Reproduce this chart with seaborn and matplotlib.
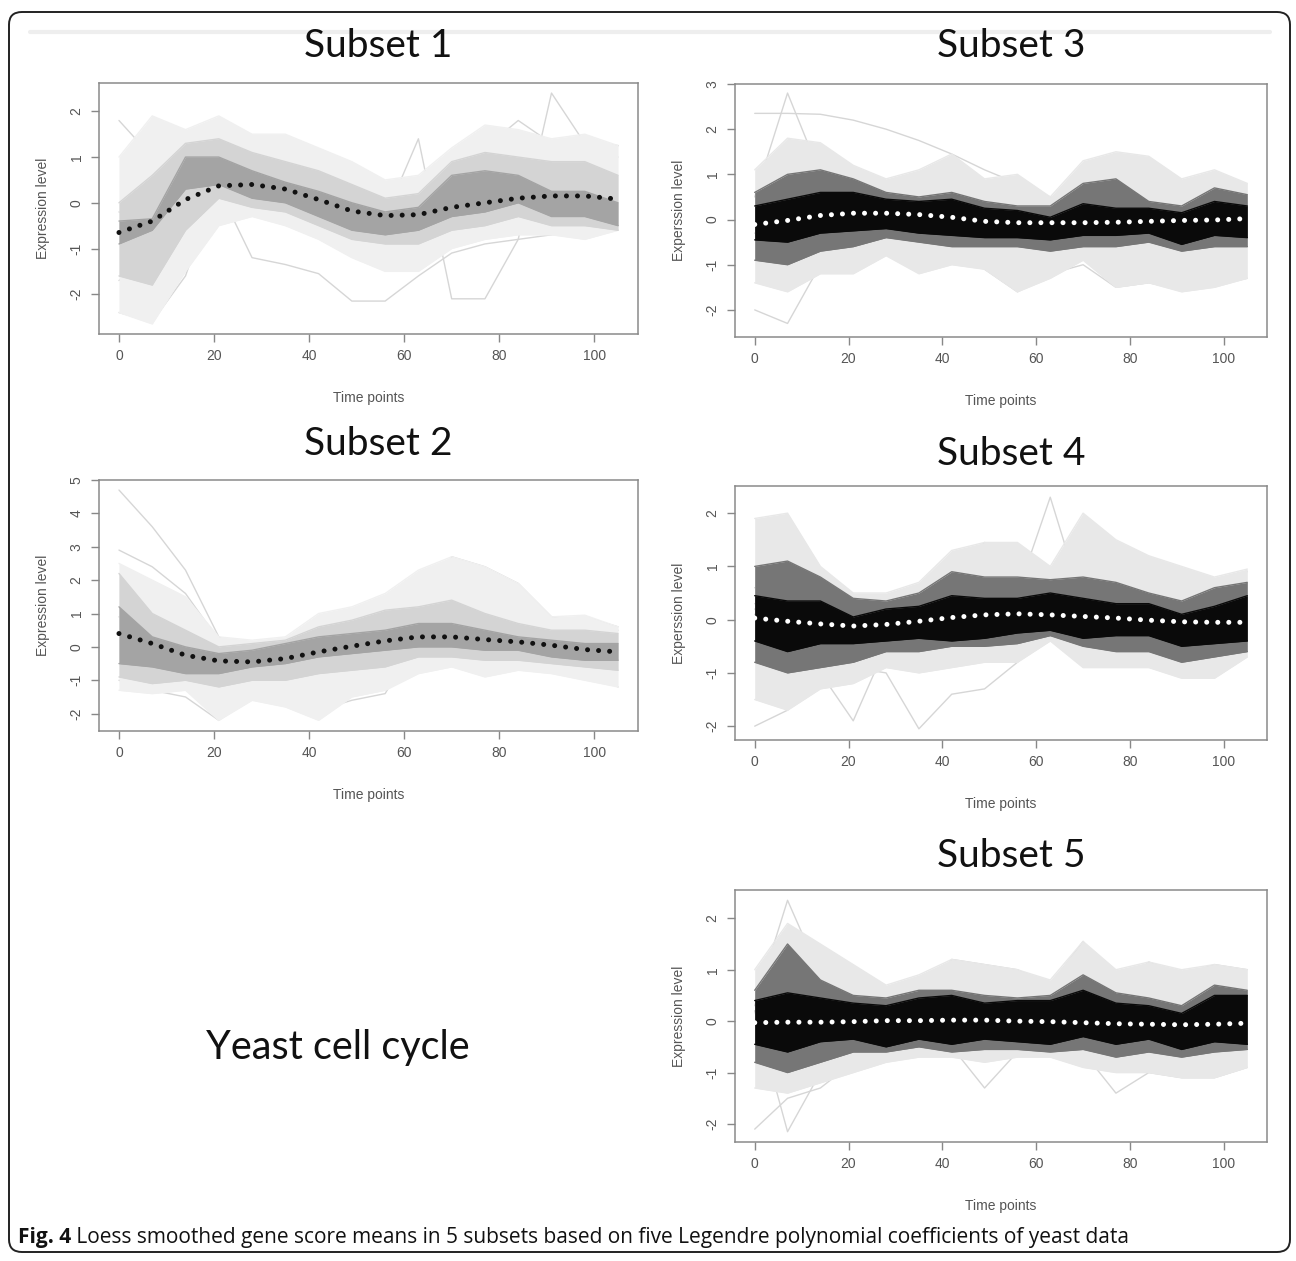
import numpy as np
import pandas as pd
import seaborn as sns
import matplotlib.pyplot as plt
from matplotlib.patches import FancyBboxPatch

# sampling times (min)
time = [0, 7, 14, 21, 28, 35, 42, 49, 56, 63, 70, 77, 84, 91, 98, 105]

# ---- Subset 1 ----
s1_mean = [-0.65, -0.4, 0.07, 0.37, 0.4, 0.3, 0.07, -0.18, -0.28, -0.26, -0.1, 0.0, 0.1, 0.15, 0.15, 0.08]
s1_core_lo = [-0.9, -0.6, 0.3, 0.4, 0.1, 0.0, -0.3, -0.6, -0.7, -0.6, -0.3, -0.2, 0.0, -0.3, -0.3, -0.5]
s1_core_hi = [-0.4, -0.35, 1.0, 1.0, 0.7, 0.45, 0.25, 0.0, -0.2, -0.1, 0.6, 0.7, 0.6, 0.25, 0.25, 0.0]
s1_mid_lo = [-1.6, -1.8, -0.6, 0.1, -0.1, -0.2, -0.5, -0.8, -0.9, -0.9, -0.6, -0.5, -0.3, -0.5, -0.5, -0.6]
s1_mid_hi = [0.0, 0.6, 1.3, 1.4, 1.1, 0.9, 0.7, 0.4, 0.1, 0.2, 0.9, 1.1, 1.0, 0.9, 0.9, 0.6]
s1_out_lo = [-2.4, -2.65, -1.5, -0.5, -0.3, -0.5, -0.8, -1.2, -1.5, -1.5, -1.0, -0.8, -0.7, -0.7, -0.8, -0.6]
s1_out_hi = [1.0, 1.9, 1.6, 1.9, 1.5, 1.5, 1.2, 0.9, 0.5, 0.6, 1.2, 1.7, 1.6, 1.4, 1.5, 1.25]
s1_odd = [
    [1.8, 1.0, 0.6, 0.3, -1.2, -1.35, -1.55, -2.15, -2.15, -1.6, -1.1, -0.9, -0.8, -0.7, -0.6, -0.6],
    [-0.2, -0.5, 0.5, 0.8, 0.3, 0.0, -0.2, -0.4, -0.3, 1.4, -2.1, -2.1, -0.8, 2.4, 1.3, 1.25],
    [-2.4, -2.6, -1.6, 0.5, 0.8, 0.6, 0.3, 0.0, -0.4, -0.5, 0.2, 0.5, 0.9, 1.1, 1.2, 1.0],
    [-1.7, -1.2, -1.4, 0.6, 1.4, 1.2, 0.8, 0.3, -0.1, -0.2, 0.6, 1.2, 1.8, 1.3, 1.3, 1.25],
]

# ---- Subset 2 ----
s2_mean = [0.4, 0.1, -0.25, -0.42, -0.45, -0.35, -0.15, 0.02, 0.18, 0.3, 0.3, 0.22, 0.15, 0.05, -0.08, -0.15]
s2_core_lo = [-0.5, -0.6, -0.8, -0.8, -0.6, -0.5, -0.3, -0.2, -0.1, 0.0, 0.0, -0.1, -0.1, -0.3, -0.4, -0.4]
s2_core_hi = [1.2, 0.3, 0.0, -0.2, -0.1, 0.1, 0.3, 0.4, 0.5, 0.7, 0.7, 0.5, 0.3, 0.2, 0.1, 0.1]
s2_mid_lo = [-0.9, -1.1, -1.0, -1.2, -1.0, -1.0, -0.8, -0.7, -0.6, -0.3, -0.3, -0.4, -0.4, -0.5, -0.6, -0.7]
s2_mid_hi = [2.2, 1.0, 0.5, 0.0, 0.1, 0.2, 0.6, 0.8, 1.1, 1.2, 1.4, 1.0, 0.7, 0.5, 0.5, 0.4]
s2_out_lo = [-1.3, -1.4, -1.3, -2.2, -1.6, -1.8, -2.2, -1.5, -1.3, -0.8, -0.6, -0.9, -0.7, -0.8, -1.0, -1.2]
s2_out_hi = [2.5, 2.0, 1.5, 0.3, 0.2, 0.3, 1.0, 1.2, 1.6, 2.3, 2.7, 2.4, 1.9, 0.9, 0.95, 0.6]
s2_odd = [
    [4.7, 3.6, 2.3, 0.3, -0.2, -0.4, -0.3, 0.0, 0.2, 0.4, 0.5, 0.3, 0.2, 0.1, 0.0, -0.1],
    [2.9, 2.4, 1.6, 0.2, -0.3, -0.5, -0.4, -0.2, 0.1, 0.6, 1.9, 2.2, 1.6, 0.8, 0.9, 0.6],
    [-1.0, -1.3, -1.5, -2.2, -1.5, -1.3, -1.9, -1.6, -1.4, 0.3, 0.4, 0.1, 0.0, -0.3, -0.6, -1.2],
    [0.9, 0.6, 0.8, 0.2, 0.0, 0.2, 0.7, 1.1, 1.5, 0.9, 2.7, 2.4, 1.9, 0.9, 0.8, 0.5],
]

# ---- Subset 3 ----
s3_mean = [-0.11, -0.02, 0.09, 0.14, 0.14, 0.11, 0.05, -0.04, -0.07, -0.07, -0.07, -0.06, -0.04, -0.02, -0.01, 0.02]
s3_core_lo = [-0.45, -0.5, -0.3, -0.25, -0.2, -0.3, -0.35, -0.4, -0.4, -0.45, -0.35, -0.35, -0.3, -0.55, -0.35, -0.4]
s3_core_hi = [0.3, 0.45, 0.6, 0.6, 0.45, 0.4, 0.45, 0.25, 0.2, 0.05, 0.35, 0.25, 0.25, 0.15, 0.4, 0.3]
s3_mid_lo = [-0.9, -1.0, -0.7, -0.6, -0.4, -0.5, -0.6, -0.6, -0.6, -0.7, -0.6, -0.6, -0.5, -0.7, -0.6, -0.6]
s3_mid_hi = [0.6, 1.0, 1.1, 0.9, 0.6, 0.5, 0.6, 0.4, 0.3, 0.3, 0.8, 0.9, 0.4, 0.3, 0.7, 0.55]
s3_out_lo = [-1.4, -1.6, -1.2, -1.2, -0.8, -1.2, -1.0, -1.1, -1.6, -1.3, -0.9, -1.5, -1.4, -1.6, -1.5, -1.3]
s3_out_hi = [1.1, 1.8, 1.7, 1.2, 0.9, 1.1, 1.45, 0.9, 1.0, 0.5, 1.3, 1.5, 1.4, 0.9, 1.1, 0.8]
s3_odd = [
    [2.35, 2.35, 2.33, 2.2, 2.0, 1.75, 1.45, 1.1, 0.8, 0.5, 0.3, 0.2, 0.1, 0.0, -0.1, -0.2],
    [0.5, 2.8, 1.0, 0.5, 0.3, 0.2, 0.1, 0.0, -0.1, 0.0, 0.2, 0.1, 0.0, -0.1, 0.0, 0.1],
    [-2.0, -2.3, -1.0, -0.5, -0.3, -0.4, -0.5, -0.6, -0.5, -0.4, -0.3, -0.4, -0.3, -0.3, -0.2, -0.3],
    [-0.3, -0.5, -0.4, -0.3, -0.4, -0.6, -0.8, -1.1, -1.6, -1.2, -1.0, -1.5, -1.4, -1.55, -1.45, -1.3],
]

# ---- Subset 4 ----
s4_mean = [0.03, -0.03, -0.08, -0.12, -0.09, -0.03, 0.04, 0.09, 0.11, 0.09, 0.06, 0.03, -0.01, -0.04, -0.05, -0.05]
s4_core_lo = [-0.4, -0.6, -0.45, -0.45, -0.4, -0.35, -0.4, -0.35, -0.25, -0.2, -0.35, -0.3, -0.3, -0.5, -0.45, -0.4]
s4_core_hi = [0.45, 0.35, 0.35, 0.05, 0.2, 0.25, 0.45, 0.4, 0.4, 0.5, 0.4, 0.3, 0.3, 0.1, 0.25, 0.45]
s4_mid_lo = [-0.8, -1.0, -0.9, -0.8, -0.6, -0.6, -0.5, -0.5, -0.45, -0.3, -0.5, -0.6, -0.6, -0.8, -0.7, -0.6]
s4_mid_hi = [1.0, 1.1, 0.8, 0.4, 0.35, 0.5, 0.9, 0.8, 0.8, 0.75, 0.8, 0.7, 0.5, 0.35, 0.6, 0.7]
s4_out_lo = [-1.5, -1.7, -1.3, -1.2, -0.9, -1.0, -0.9, -0.8, -0.8, -0.4, -0.9, -0.9, -0.9, -1.1, -1.1, -0.7]
s4_out_hi = [1.9, 2.0, 1.0, 0.5, 0.5, 0.7, 1.3, 1.45, 1.45, 1.0, 2.0, 1.5, 1.2, 1.0, 0.8, 0.95]
s4_odd = [
    [-2.0, -1.7, -1.0, -0.6, -0.4, -0.3, -0.2, -0.1, 0.0, 0.1, 0.0, -0.1, -0.2, -0.3, -0.2, -0.1],
    [0.2, -0.4, -1.0, -1.9, -0.5, -0.3, -0.2, -0.2, -0.1, 0.0, -0.1, -0.2, -0.3, -0.4, -0.3, -0.2],
    [0.1, -0.2, -0.6, -0.9, -1.0, -2.05, -1.4, -1.3, -0.8, -0.2, -0.3, -0.5, -0.6, -0.7, -0.6, -0.5],
    [0.3, 0.2, 0.1, 0.0, 0.1, 0.3, 0.6, 0.7, 0.5, 2.3, 0.3, 1.4, 1.1, 0.9, 0.7, 0.9],
    [0.6, 0.5, 0.3, 0.2, 0.1, 0.4, 0.9, 1.45, 0.6, 0.5, 1.9, 1.3, 0.7, 0.5, 0.4, 0.5],
]

# ---- Subset 5 ----
s5_mean = [-0.03, -0.02, -0.02, -0.01, 0.01, 0.01, 0.02, 0.02, 0.0, -0.01, -0.03, -0.05, -0.06, -0.07, -0.06, -0.04]
s5_core_lo = [-0.45, -0.6, -0.4, -0.35, -0.5, -0.35, -0.45, -0.35, -0.4, -0.45, -0.3, -0.45, -0.35, -0.55, -0.4, -0.45]
s5_core_hi = [0.4, 0.55, 0.45, 0.35, 0.3, 0.45, 0.5, 0.35, 0.4, 0.4, 0.6, 0.35, 0.3, 0.15, 0.5, 0.5]
s5_mid_lo = [-0.8, -1.0, -0.8, -0.6, -0.6, -0.5, -0.6, -0.55, -0.55, -0.6, -0.55, -0.7, -0.6, -0.7, -0.6, -0.55]
s5_mid_hi = [0.6, 1.5, 0.8, 0.5, 0.45, 0.6, 0.6, 0.5, 0.45, 0.5, 0.9, 0.55, 0.45, 0.3, 0.7, 0.6]
s5_out_lo = [-1.3, -1.4, -1.2, -1.0, -0.8, -0.7, -0.7, -0.8, -0.7, -0.7, -0.9, -1.0, -1.0, -1.1, -1.1, -0.9]
s5_out_hi = [1.0, 1.9, 1.5, 1.1, 0.7, 0.9, 1.2, 1.1, 1.0, 0.8, 1.55, 1.0, 1.15, 1.0, 1.1, 1.0]
s5_odd = [
    [-2.1, -1.5, -1.3, -0.8, -0.5, -0.4, -0.3, -0.3, -0.2, -0.2, -0.3, -0.4, -0.3, -0.3, -0.2, -0.2],
    [0.3, 2.35, 0.9, 0.5, 0.3, 0.2, 0.3, 0.2, 0.1, 0.2, 0.6, 0.3, 0.2, 0.1, 0.3, 0.2],
    [0.2, -2.15, -1.0, -0.6, -0.4, -0.5, -0.5, -1.3, -0.6, -0.5, -0.6, -1.4, -1.0, -1.1, -1.1, -0.9],
    [0.2, 0.3, 0.2, 0.1, 0.0, 0.2, 1.2, 1.1, 1.0, 0.7, 1.55, 0.6, 1.15, 0.9, 1.1, 1.0],
]

titles = ["Subset 1", "Subset 2", "Subset 3", "Subset 4", "Subset 5"]
ylabels = ["Expression level", "Expression level", "Experssion level",
           "Experssion level", "Expression level"]
caption_bold = "Fig. 4"
caption_text = " Loess smoothed gene score means in 5 subsets based on five Legendre polynomial coefficients of yeast data"

sns.set_style("white")
plt.rcParams['font.family'] = ['Liberation Sans', 'DejaVu Sans']
plt.rcParams['axes.unicode_minus'] = False

W, H = 1296, 1261
fig = plt.figure(figsize=(W / 100, H / 100), dpi=100)


def px_axes(x0, y0, x1, y1):
    return fig.add_axes([x0 / W, 1 - y1 / H, (x1 - x0) / W, (y1 - y0) / H])


def long_df(lines):
    rows = []
    for g, vals in enumerate(lines):
        for t, v in zip(time, vals):
            rows.append({"gene": g, "t": t, "v": v})
    return pd.DataFrame(rows)


grey_shades = ("#f0f0f0", "#d4d4d4", "#a4a4a4")
dark_shades = ("#e8e8e8", "#767676", "#0a0a0a")

panels = [
    # mean, core, mid, outer, odd, box px, ylim, yticks, shades, dot colour, title y
    (s1_mean, (s1_core_lo, s1_core_hi), (s1_mid_lo, s1_mid_hi), (s1_out_lo, s1_out_hi), s1_odd,
     (99, 83, 638, 334), (-2.87, 2.62), [-2, -1, 0, 1, 2], grey_shades, "#111111", 46),
    (s2_mean, (s2_core_lo, s2_core_hi), (s2_mid_lo, s2_mid_hi), (s2_out_lo, s2_out_hi), s2_odd,
     (99, 480, 638, 731), (-2.52, 5.0), [-2, -1, 0, 1, 2, 3, 4, 5], grey_shades, "#111111", 444),
    (s3_mean, (s3_core_lo, s3_core_hi), (s3_mid_lo, s3_mid_hi), (s3_out_lo, s3_out_hi), s3_odd,
     (735, 84, 1267, 337), (-2.6, 3.0), [-2, -1, 0, 1, 2, 3], dark_shades, "#ffffff", 46),
    (s4_mean, (s4_core_lo, s4_core_hi), (s4_mid_lo, s4_mid_hi), (s4_out_lo, s4_out_hi), s4_odd,
     (735, 486, 1267, 740), (-2.26, 2.51), [-2, -1, 0, 1, 2], dark_shades, "#ffffff", 454),
    (s5_mean, (s5_core_lo, s5_core_hi), (s5_mid_lo, s5_mid_hi), (s5_out_lo, s5_out_hi), s5_odd,
     (735, 890, 1267, 1142), (-2.35, 2.55), [-2, -1, 0, 1, 2], dark_shades, "#ffffff", 856),
]

for i, (mean, core, mid, outer, odd, box, ylim, yticks, shades, dotc, ty) in enumerate(panels):
    ax = px_axes(*box)
    # envelope layers, light to dark
    for (lo, hi), shade in zip([outer, mid, core], shades):
        ax.fill_between(time, lo, hi, color=shade, lw=0, zorder=1)
        for edge in (lo, hi):
            sns.lineplot(x=time, y=edge, ax=ax, color=shade, lw=1.0, zorder=1)
    # odd single genes
    sns.lineplot(data=long_df(odd), x="t", y="v", units="gene", estimator=None,
                 color="#d6d6d6", lw=1.0, ax=ax, zorder=0)
    # loess mean
    sns.lineplot(x=time, y=mean, ax=ax, color=dotc, lw=3.6,
                 linestyle=(0, (0.01, 2.2)), dash_capstyle="round", zorder=3)

    ax.set_xlim(-4.2, 109.2)
    ax.set_ylim(*ylim)
    ax.set_xticks([0, 20, 40, 60, 80, 100])
    ax.set_yticks(yticks)
    ax.tick_params(axis="both", direction="out", length=6, width=1, color="#888888",
                   labelsize=10, labelcolor="#555555", pad=5, left=True, bottom=True)
    for lbl in ax.get_yticklabels():
        lbl.set_rotation(90)
        lbl.set_va("center")
    for sp in ax.spines.values():
        sp.set_color("#8a8a8a")
        sp.set_linewidth(1.1)
    ax.set_xlabel("Time points", fontsize=10, color="#555555", labelpad=20)
    ax.set_ylabel(ylabels[i], fontsize=10, color="#555555", labelpad=14)
    cx = (box[0] + box[2]) / 2 + 10
    fig.text(cx / W, 1 - ty / H, titles[i], fontsize=28, family=["Lato", "DejaVu Sans"],
             ha="center", va="center", color="#111111")

fig.text(338 / W, 1 - 1048 / H, "Yeast cell cycle", fontsize=28.5, family=["Lato", "DejaVu Sans"],
         ha="center", va="center", color="#111111")

# caption
t1 = fig.text(18 / W, 1 - 1237 / H, caption_bold, fontsize=15, fontweight="bold",
              family=["Open Sans", "DejaVu Sans"], ha="left", va="center", color="#111111")
fig.canvas.draw()
bb = t1.get_window_extent()
fig.text(bb.x1 / W, 1 - 1237 / H, caption_text, fontsize=15,
         family=["Open Sans", "DejaVu Sans"], ha="left", va="center", color="#111111")

# outer frame and faint top rule
frame = FancyBboxPatch((9 / W, 1 - 1252 / H), (1290 - 9) / W, (1252 - 12) / H,
                       boxstyle="round,pad=0,rounding_size=0.01", transform=fig.transFigure,
                       fill=False, ec="#222222", lw=1.4)
fig.patches.append(frame)
fig.add_artist(plt.Line2D([30 / W, 1270 / W], [1 - 32 / H, 1 - 32 / H], color="#eeeeee", lw=3))

fig.savefig("out.png", dpi=100)
